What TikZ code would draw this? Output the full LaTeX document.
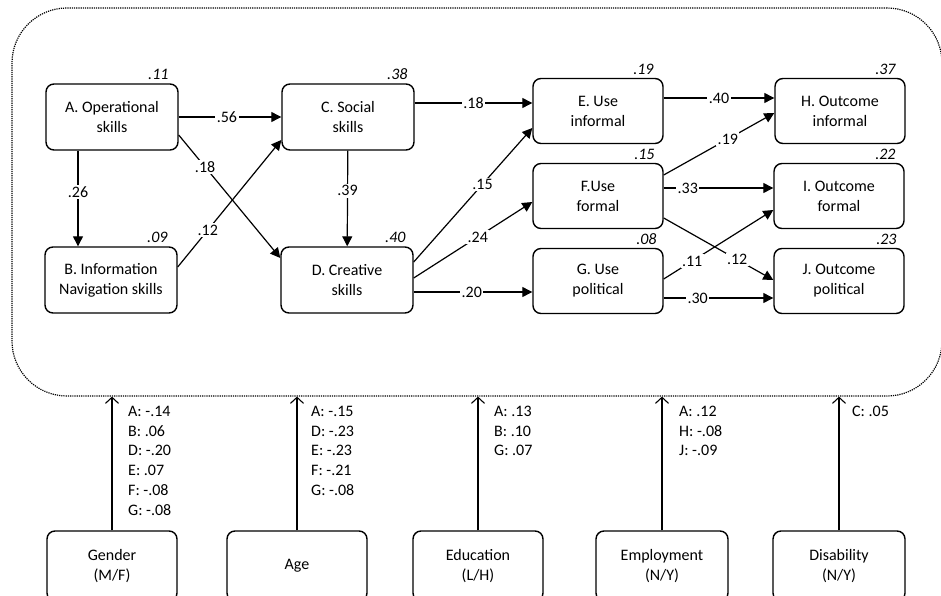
\documentclass[tikz,border=0pt]{standalone}
\usepackage{fontspec}
\setmainfont{Carlito}
\usetikzlibrary{arrows.meta,calc}

\begin{document}
\begin{tikzpicture}[x=1pt,y=-1pt]
        \tikzstyle{latent}=[draw, line width=1.4pt, rounded corners=8pt, minimum width=132pt, minimum height=66pt, align=center, inner sep=2pt, font=\fontsize{16}{20}\selectfont]
        \tikzstyle{uses}=[latent, minimum width=130pt, minimum height=65pt]
        \tikzstyle{covar}=[latent, minimum height=70pt]
        \tikzstyle{pathline}=[line width=1.2pt, -{Triangle[length=10pt,width=10pt]}]
        \tikzstyle{ctrl}=[line width=1.1pt, -{Straight Barb[length=6pt,width=13pt]}]
        \tikzstyle{coef}=[fill=white, inner sep=1.5pt, font=\fontsize{16}{18}\selectfont]
        \tikzstyle{rsq}=[anchor=south east, inner sep=0pt, font=\fontsize{16}{18}\selectfont\itshape]
        \tikzstyle{effects}=[anchor=north west, align=left, inner sep=0pt, font=\fontsize{16}{19.7}\selectfont]
        \useasboundingbox (0,0) rectangle (941,596);
        % model frame
        \node [draw, densely dotted, line width=1.2pt, rounded corners=55pt, minimum width=930pt, minimum height=388pt] (model) at (477,202) {};
        \node [latent] (A) at (112,117) {A. Operational\\skills};
        \node [latent] (B) at (111,280) {B. Information\\Navigation skills};
        \node [latent] (C) at (348,117) {C. Social\\skills};
        \node [latent] (D) at (347,280) {D. Creative\\skills};
        \node [uses] (E) at (598,111) {E. Use\\informal};
        \node [uses] (F) at (598,196) {F.Use\\formal};
        \node [uses] (G) at (598,281) {G. Use\\political};
        \node [uses] (H) at (840,111) {H. Outcome\\informal};
        \node [uses] (I) at (839,196) {I. Outcome\\formal};
        \node [uses] (J) at (839,281) {J. Outcome\\political};
        \node [rsq] (rA) at ($(A.north east)+(-10,-3)$) {.11};
        \node [rsq] (rB) at ($(B.north east)+(-10,-3)$) {.09};
        \node [rsq] (rC) at ($(C.north east)+(-7,-3)$) {.38};
        \node [rsq] (rD) at ($(D.north east)+(-8,-3)$) {.40};
        \node [rsq] (rE) at ($(E.north east)+(-10,-3)$) {.19};
        \node [rsq] (rF) at ($(F.north east)+(-9,-3)$) {.15};
        \node [rsq] (rG) at ($(G.north east)+(-7,-3)$) {.08};
        \node [rsq] (rH) at ($(H.north east)+(-10,-3)$) {.37};
        \node [rsq] (rI) at ($(I.north east)+(-9,-3)$) {.22};
        \node [rsq] (rJ) at ($(J.north east)+(-8,-3)$) {.23};
        \draw [pathline] (A.south -| 78,0) -- node [coef, pos=0.43] {.26} (B.north -| 78,0);
        \draw [pathline] (A.east) -- node [coef, pos=0.47] {.56} (C.west);
        \draw [pathline] ($(A.east)+(0,18)$) -- node [coef, pos=0.26] {.18} ($(D.west)+(0,-22)$);
        \draw [pathline] ($(B.east)+(0,-13)$) -- node [coef, pos=0.29] {.12} ($(C.west)+(0,23)$);
        \draw [pathline] (C) -- node [coef, pos=0.42] {.39} (D);
        \draw [pathline] ($(C.east)+(0,-14)$) -- node [coef, pos=0.5] {.18} ($(E.west)+(0,-8)$);
        \draw [pathline] ($(D.east)+(0,-18)$) -- node [coef, pos=0.58] {.15} ($(E.west)+(0,17)$);
        \draw [pathline] ($(D.east)+(0,-2)$) -- node [coef, pos=0.54] {.24} ($(F.west)+(0,6)$);
        \draw [pathline] ($(D.east)+(0,12)$) -- node [coef, pos=0.49] {.20} ($(G.west)+(0,11)$);
        \draw [pathline] ($(E.east)+(0,-13)$) -- node [coef, pos=0.5] {.40} ($(H.west)+(0,-13)$);
        \draw [pathline] ($(F.east)+(0,-21)$) -- node [coef, pos=0.58] {.19} ($(H.west)+(0,2)$);
        \draw [pathline] ($(F.east)+(0,-8)$) -- node [coef, pos=0.22] {.33} ($(I.west)+(0,-8)$);
        \draw [pathline] ($(F.east)+(0,22)$) -- node [coef, pos=0.67] {.12} ($(J.west)+(0,-1)$);
        \draw [pathline] ($(G.east)+(0,-2)$) -- node [coef, pos=0.26] {.11} ($(I.west)+(0,14)$);
        \draw [pathline] ($(G.east)+(0,17)$) -- node [coef, pos=0.31] {.30} ($(J.west)+(0,17)$);
        % background variables
        \node [covar, minimum width=130pt] (gender) at (112,566) {Gender\\(M/F)};
        \node [covar, minimum width=140pt] (age) at (297,566) {Age};
        \node [covar, minimum width=130pt] (edu) at (478,566) {Education\\(L/H)};
        \node [covar] (empl) at (662,566) {Employment\\(N/Y)};
        \node [covar] (disab) at (839,566) {Disability\\(N/Y)};
        \draw [ctrl] (gender) -- (gender |- model.south);
        \draw [ctrl] (age) -- (age |- model.south);
        \draw [ctrl] (edu) -- (edu |- model.south);
        \draw [ctrl] (empl) -- (empl |- model.south);
        \draw [ctrl] (disab) -- (disab |- model.south);
        \node [effects] (gl) at (128,406) {A: -.14\\B: .06\\D: -.20\\E: .07\\F: -.08\\G: -.08};
        \node [effects] (al) at (311,406) {A: -.15\\D: -.23\\E: -.23\\F: -.21\\G: -.08};
        \node [effects] (el) at (494,406) {A: .13\\B: .10\\G: .07};
        \node [effects] (ml) at (679,406) {A: .12\\H: -.08\\J: -.09};
        \node [effects] (dl) at (852,406) {C: .05};
\end{tikzpicture}
\end{document}
